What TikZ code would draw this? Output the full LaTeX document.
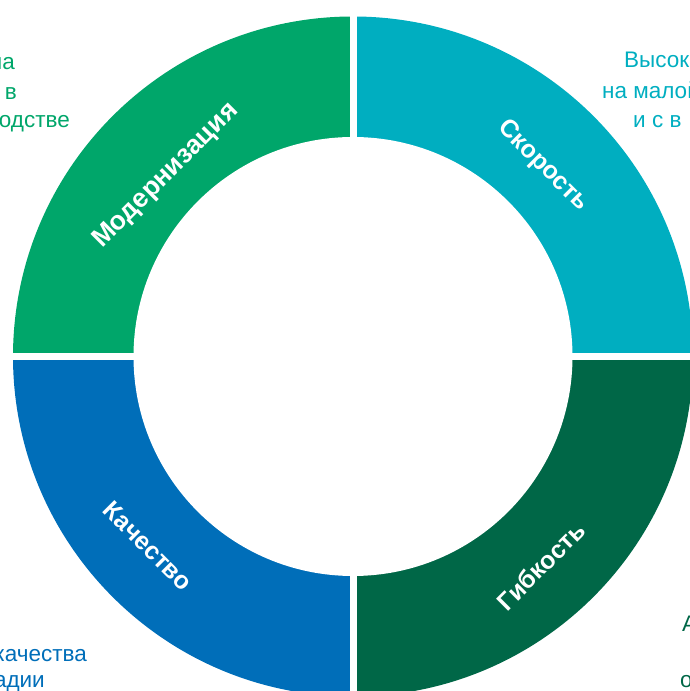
\documentclass[tikz,border=0pt]{standalone}
\usepackage{fontspec}
\setmainfont{Liberation Sans}
\definecolor{cMod}{RGB}{0,166,106}
\definecolor{cSpd}{RGB}{0,174,192}
\definecolor{cQual}{RGB}{0,110,185}
\definecolor{cFlex}{RGB}{0,103,71}
\tikzset{
  seglabel/.style={text=white,font=\bfseries\fontsize{25}{28}\selectfont,inner sep=0pt},
  cornertext/.style={font=\fontsize{22.5}{26}\selectfont,inner sep=0pt}
}
\begin{document}
\begin{tikzpicture}[x=1pt,y=1pt]
\useasboundingbox (0,0) rectangle (690,691);
\coordinate (C) at (353,334.5);
% ring quadrants
\fill[cSpd]  (C) -- ++(0:340) arc[start angle=0,end angle=90,radius=340] -- cycle;
\fill[cMod]  (C) -- ++(90:340) arc[start angle=90,end angle=180,radius=340] -- cycle;
\fill[cQual] (C) -- ++(180:340) arc[start angle=180,end angle=270,radius=340] -- cycle;
\fill[cFlex] (C) -- ++(270:340) arc[start angle=270,end angle=360,radius=340] -- cycle;
% gaps
\draw[white,line width=7] (353,0) -- (353,691);
\draw[white,line width=7] (0,334.5) -- (690,334.5);
\fill[white] (C) circle[radius=219.5];
% segment labels
\node[seglabel,rotate=45,font=\bfseries\fontsize{26.5}{30}\selectfont] (mod) at (166,515) {Модернизация};
\node[seglabel,rotate=-45] (spd)  at (543,525) {Скорость};
\node[seglabel,rotate=-45] (qual) at (148,145) {Качество};
\node[seglabel,rotate=45]  (flex) at (541,125) {Гибкость};
% corner texts
\node[cornertext,text=cMod,anchor=base east] (tl1) at (15,621) {на};
\node[cornertext,text=cMod,anchor=base east] (tl2) at (17,591) {в};
\node[cornertext,text=cMod,anchor=base east] (tl3) at (70,563) {одстве};
\node[cornertext,text=cSpd,anchor=base west] (tr1) at (624,623) {Высок};
\node[cornertext,text=cSpd,anchor=base west] (tr2) at (602,592) {на малой};
\node[cornertext,text=cSpd,anchor=base west] (tr3) at (633,563) {и с в};
\node[cornertext,text=cQual,anchor=base east] (bl1) at (87,29) {качества};
\node[cornertext,text=cQual,anchor=base east] (bl2) at (45,3) {адии};
\node[cornertext,text=cFlex,anchor=base west] (br1) at (682,59) {А};
\node[cornertext,text=cFlex,anchor=base west] (br2) at (680,4) {о};
\end{tikzpicture}
\end{document}
